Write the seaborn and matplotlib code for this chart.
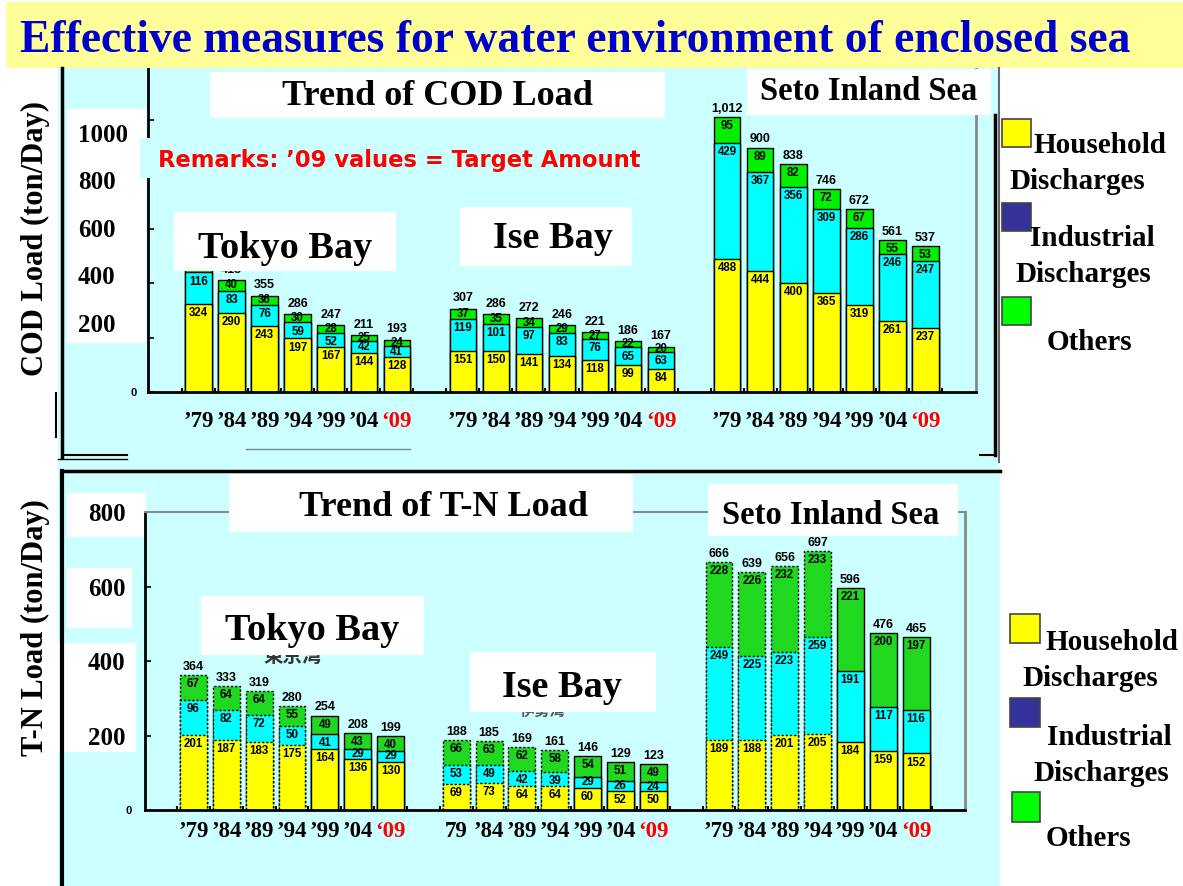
import matplotlib
matplotlib.use("Agg")
import matplotlib.pyplot as plt
import numpy as np
import pandas as pd
import seaborn as sns
from matplotlib.patches import Rectangle
from matplotlib.lines import Line2D

# ---------------- data ----------------
regions = ["Tokyo Bay", "Ise Bay", "Seto Inland Sea"]
year_labels = ["’79", "’84", "’89", "’94", "’99", "’04", "‘09"]
tn_ise_year_labels = ["79", "’84", "’89", "’94", "’99", "’04", "‘09"]
legend_labels = ["Household\nDischarges", "Industrial\nDischarges", "Others"]

cod_tokyo_household = [324, 290, 243, 197, 167, 144, 128]
cod_tokyo_industrial = [116, 83, 76, 59, 52, 42, 41]
cod_tokyo_others = [37, 40, 36, 30, 28, 25, 24]
cod_tokyo_total = [477, 413, 355, 286, 247, 211, 193]

cod_ise_household = [151, 150, 141, 134, 118, 99, 84]
cod_ise_industrial = [119, 101, 97, 83, 76, 65, 63]
cod_ise_others = [37, 35, 34, 29, 27, 22, 20]
cod_ise_total = [307, 286, 272, 246, 221, 186, 167]

cod_seto_household = [488, 444, 400, 365, 319, 261, 237]
cod_seto_industrial = [429, 367, 356, 309, 286, 246, 247]
cod_seto_others = [95, 89, 82, 72, 67, 55, 53]
cod_seto_total = [1012, 900, 838, 746, 672, 561, 537]

tn_tokyo_household = [201, 187, 183, 175, 164, 136, 130]
tn_tokyo_industrial = [96, 82, 72, 50, 41, 29, 29]
tn_tokyo_others = [67, 64, 64, 55, 49, 43, 40]
tn_tokyo_total = [364, 333, 319, 280, 254, 208, 199]

tn_ise_household = [69, 73, 64, 64, 60, 52, 50]
tn_ise_industrial = [53, 49, 42, 39, 29, 26, 24]
tn_ise_others = [66, 63, 62, 58, 54, 51, 49]
tn_ise_total = [188, 185, 169, 161, 146, 129, 123]

tn_seto_household = [189, 188, 201, 205, 184, 159, 152]
tn_seto_industrial = [249, 225, 223, 259, 191, 117, 116]
tn_seto_others = [228, 226, 232, 233, 221, 200, 197]
tn_seto_total = [666, 639, 656, 697, 596, 476, 465]

cod_ticks = [0, 200, 400, 600, 800, 1000, 1200]
cod_big_ticks = [200, 400, 600, 800, 1000]
tn_ticks = [0, 200, 400, 600, 800]
tn_big_ticks = [200, 400, 600, 800]

YELLOW, CYAN = "#FFFF00", "#00FFFF"
GREEN_COD, GREEN_TN = "#00F000", "#20D820"
LEG_COLORS = ["#FFFF00", "#333399", "#00FF00"]
PANEL = "#CCFFFF"

# ---------------- helpers ----------------
W, H = 1183, 886
fig = plt.figure(figsize=(W / 100, H / 100), dpi=100)
fig.patch.set_facecolor("white")

SERIF = "Liberation Serif"
SANS = "Liberation Sans"


def frect(x0, y0, x1, y1, z=-1, **kw):
    r = Rectangle((x0 / W, 1 - y1 / H), (x1 - x0) / W, (y1 - y0) / H,
                  transform=fig.transFigure, zorder=z, **kw)
    fig.add_artist(r)


def fline(x0, y0, x1, y1, z=4, **kw):
    fig.add_artist(Line2D([x0 / W, x1 / W], [1 - y0 / H, 1 - y1 / H],
                          transform=fig.transFigure, zorder=z, **kw))


def ftext(x, y, s, z=3, **kw):
    return fig.text(x / W, 1 - y / H, s, zorder=z, **kw)


def px_axes(x0, y0, x1, y1):
    return fig.add_axes([x0 / W, 1 - y1 / H, (x1 - x0) / W, (y1 - y0) / H])


order = ([f"{regions[0]}|{k}" for k in range(7)] + ["gap1"] +
         [f"{regions[1]}|{k}" for k in range(7)] + ["gap2"] +
         [f"{regions[2]}|{k}" for k in range(7)])
bar_slots = [i for i, s in enumerate(order) if not s.startswith("gap")]
year_of_slot = {i: int(order[i].split("|")[1]) for i in bar_slots}


def build(hh, ind, oth, tot):
    rows = []
    for r, h, i, o, t in zip(regions, hh, ind, oth, tot):
        for k in range(7):
            rows.append(dict(slot=f"{r}|{k}", household=h[k], industrial=i[k],
                             others=o[k], total=t[k]))
    df = pd.DataFrame(rows)
    df["hh_ind"] = df["household"] + df["industrial"]
    return df


def draw_panel(ax, df, green, width, dotted, px_per_unit):
    for col, c in [("total", green), ("hh_ind", CYAN), ("household", YELLOW)]:
        n0 = len(ax.patches)
        sns.barplot(data=df, x="slot", y=col, order=order, color=c, saturation=1,
                    width=width, edgecolor="black", linewidth=1.0, errorbar=None, ax=ax)
        if dotted:
            for p in ax.patches[n0:]:
                idx = int(round(p.get_x() + p.get_width() / 2))
                if year_of_slot.get(idx, 9) < 4:
                    p.set_linestyle((0, (1.6, 1.4)))
    lab_kw = dict(fontsize=8.3, fontweight="bold", family=SANS, ha="center",
                  textcoords="offset points", color="black", zorder=5)

    def seg_label(idx, value, bottom, top):
        if (top - bottom) * px_per_unit < 13:
            ax.annotate(str(value), (idx, (top + bottom) / 2), xytext=(0, 0),
                        va="center", **lab_kw)
        else:
            ax.annotate(str(value), (idx, top), xytext=(0, -2.2), va="top", **lab_kw)

    for _, row in df.iterrows():
        idx = order.index(row["slot"])
        seg_label(idx, row["household"], 0, row["household"])
        seg_label(idx, row["industrial"], row["household"], row["hh_ind"])
        seg_label(idx, row["others"], row["hh_ind"], row["total"])
        tk = dict(lab_kw)
        tk["fontsize"] = 9.0
        small_top = (row["total"] - row["hh_ind"]) * px_per_unit < 13
        ax.annotate(f"{row['total']:,}", (idx, row["total"]),
                    xytext=(0, 3.0 if small_top else 1.5), va="bottom", **tk)
    ax.set_xlabel("")
    ax.set_ylabel("")
    ax.patch.set_visible(False)


def style_axes(ax, xlims, ylims, ticks, xlabels, zero_pad, xpad, top_visible):
    ax.set_xlim(*xlims)
    ax.set_ylim(*ylims)
    ax.set_yticks(ticks)
    ax.set_yticklabels(["0"] + [""] * (len(ticks) - 1), fontsize=8,
                       fontweight="bold", family=SANS)
    ax.tick_params(axis="y", direction="in", length=4, width=1.2, pad=zero_pad)
    ax.set_xticks(bar_slots)
    ax.set_xticklabels(xlabels, fontsize=16.5, fontweight="bold", family=SERIF)
    for lbl, s in zip(ax.get_xticklabels(), xlabels):
        if "09" in s:
            lbl.set_color("#FF0000")
    ax.tick_params(axis="x", which="major", length=0, pad=xpad)
    ax.set_xticks(np.arange(-0.5, len(order), 1.0), minor=True)
    ax.tick_params(axis="x", which="minor", direction="in", length=3, width=1.5)
    ax.spines["left"].set_color("black")
    ax.spines["left"].set_linewidth(2)
    ax.spines["bottom"].set_color("black")
    ax.spines["bottom"].set_linewidth(2)
    ax.spines["right"].set_color("#888888")
    ax.spines["right"].set_linewidth(2)
    ax.spines["top"].set_color("#888888")
    ax.spines["top"].set_linewidth(1.5)
    ax.spines["top"].set_visible(top_visible)


def overlay_labels(rect, ylims, ticks, pad, ha):
    ov = px_axes(*rect)
    ov.set_ylim(*ylims)
    ov.set_yticks(ticks)
    ov.set_yticklabels([str(t) for t in ticks], fontsize=18, fontweight="bold",
                       family=SERIF, ha=ha)
    ov.tick_params(axis="y", length=0, pad=pad)
    ov.set_xticks([])
    for s in ov.spines.values():
        s.set_visible(False)
    ov.patch.set_visible(False)
    return ov


# ---------------- backgrounds ----------------
frect(6, 2, 1183, 68, z=1, facecolor="#FFFF99", edgecolor="none")
frect(58, 68, 999, 466, z=-2, facecolor=PANEL, edgecolor="none")
frect(58, 466, 1000, 886, z=-2, facecolor=PANEL, edgecolor="none")
frect(67, 109, 146, 343, z=-1, facecolor="white", edgecolor="none")
frect(67, 493, 146, 537, z=-1, facecolor="white", edgecolor="none")
frect(67, 568, 132, 628, z=-1, facecolor="white", edgecolor="none")
frect(58, 643, 136, 752, z=-1, facecolor="white", edgecolor="none")

# panel borders
fline(62, 68, 62, 457, lw=2.5, color="black")
fline(62, 455, 127, 455, lw=1.5, color="black")
fline(58, 459, 127, 459, lw=1.0, color="black")
fline(56, 393, 56, 437, lw=1.5, color="black")
fline(246, 449, 410, 449, lw=1.0, color="#778888")
fline(995, 115, 995, 455, lw=2.5, color="black")
fline(999, 68, 999, 462, lw=1.5, color="#666666")
fline(980, 455, 995, 455, lw=1.5, color="black")
fline(62, 471, 1000, 471, lw=2.5, color="black")
fline(62, 471, 62, 886, lw=3, color="black")

# ---------------- COD panel ----------------
cod_df = build([cod_tokyo_household, cod_ise_household, cod_seto_household],
               [cod_tokyo_industrial, cod_ise_industrial, cod_seto_industrial],
               [cod_tokyo_others, cod_ise_others, cod_seto_others],
               [cod_tokyo_total, cod_ise_total, cod_seto_total])
ax1 = px_axes(148, 66, 976, 392)
draw_panel(ax1, cod_df, GREEN_COD, 0.8, dotted=False, px_per_unit=(392 - 66) / 1200)
style_axes(ax1, (-1.53, 23.53), (0, 1200), cod_ticks, year_labels * 3,
           zero_pad=8, xpad=14, top_visible=False)
overlay_labels((148, 66, 976, 392), (-90.5, 1282), cod_big_ticks, pad=50.4, ha="left")

# ---------------- T-N panel ----------------
tn_df = build([tn_tokyo_household, tn_ise_household, tn_seto_household],
              [tn_tokyo_industrial, tn_ise_industrial, tn_seto_industrial],
              [tn_tokyo_others, tn_ise_others, tn_seto_others],
              [tn_tokyo_total, tn_ise_total, tn_seto_total])
ax2 = px_axes(145, 512.4, 965, 810)
draw_panel(ax2, tn_df, GREEN_TN, 0.82, dotted=True, px_per_unit=(810 - 512.4) / 800)
style_axes(ax2, (-1.476, 23.49), (0, 800), tn_ticks,
           year_labels + tn_ise_year_labels + year_labels,
           zero_pad=9.5, xpad=8, top_visible=True)
overlay_labels((145, 512.4, 965, 810), (0, 800), tn_big_ticks, pad=14, ha="right")

# ---------------- titles and boxed labels ----------------
ftext(20, 52, "Effective measures for water environment of enclosed sea", z=3,
      fontsize=32.8, fontweight="bold", family=SERIF, color="#0000CC", va="baseline")

box_kw = dict(fontweight="bold", family=SERIF, color="black", ha="center", va="baseline")
frect(210, 72, 665, 118, z=2, facecolor="white", edgecolor="none")
ftext(437, 105, "Trend of COD Load", fontsize=26, **box_kw)
frect(747, 69, 991, 115, z=2, facecolor="white", edgecolor="none")
ftext(869, 100, "Seto Inland Sea", fontsize=23.5, **box_kw)
frect(174, 212, 396, 271, z=2, facecolor="white", edgecolor="none")
ftext(285, 258, "Tokyo Bay", fontsize=27.5, **box_kw)
frect(460, 207, 632, 266, z=2, facecolor="white", edgecolor="none")
ftext(553, 248, "Ise Bay", fontsize=27.5, **box_kw)
frect(140, 138, 650, 178, z=1, facecolor=PANEL, edgecolor="none")
ftext(158, 167, "Remarks: ’09 values = Target Amount", fontsize=16.3,
      fontweight="bold", family="DejaVu Sans", color="#FF0000", va="baseline", ha="left")

frect(229, 474, 633, 532, z=2, facecolor="white", edgecolor="none")
ftext(443, 516, "Trend of T-N Load", fontsize=26, **box_kw)
frect(708, 484, 958, 536, z=2, facecolor="white", edgecolor="none")
ftext(831, 524, "Seto Inland Sea", fontsize=23.5, **box_kw)
ftext(293, 662, "東京湾", z=1.5, fontsize=14, fontweight="bold",
      family="Noto Sans CJK JP", color="#333333", ha="center", va="baseline")
ftext(543, 716, "伊勢湾", z=1.5, fontsize=11, fontweight="bold",
      family="Noto Sans CJK JP", color="#555555", ha="center", va="baseline")
frect(201, 596, 424, 655, z=2, facecolor="white", edgecolor="none")
ftext(312, 640, "Tokyo Bay", fontsize=27.5, **box_kw)
frect(470, 652, 656, 712, z=2, facecolor="white", edgecolor="none")
ftext(562, 697, "Ise Bay", fontsize=27.5, **box_kw)

ylab_kw = dict(fontsize=22, fontweight="bold", family=SERIF, rotation=90,
               ha="center", va="center", color="black")
ftext(35, 238, "COD Load (ton/Day)", **ylab_kw)
ftext(35, 628, "T-N Load (ton/Day)", **ylab_kw)

# ---------------- legends ----------------
leg_kw = dict(fontsize=21, fontweight="bold", family=SERIF, color="black",
              ha="left", va="baseline")
# COD legend
for (x0, y0, x1, y1), c in zip([(1002, 119, 1031, 147), (1002, 203, 1031, 231),
                                 (1002, 297, 1031, 325)], LEG_COLORS):
    frect(x0, y0, x1, y1, z=2, facecolor=c, edgecolor="#444444", linewidth=1.2)
h1, h2 = legend_labels[0].split("\n")
i1, i2 = legend_labels[1].split("\n")
ftext(1033, 153, h1, **leg_kw)
ftext(1009, 189, h2, **leg_kw)
ftext(1030, 246, i1, **leg_kw)
ftext(1015, 282, i2, **leg_kw)
ftext(1047, 350, legend_labels[2], **leg_kw)
# T-N legend
for (x0, y0, x1, y1), c in zip([(1010, 614, 1040, 643), (1010, 698, 1040, 727),
                                 (1012, 792, 1040, 822)], LEG_COLORS):
    frect(x0, y0, x1, y1, z=2, facecolor=c, edgecolor="#444444", linewidth=1.2)
ftext(1045, 650, h1, **leg_kw)
ftext(1022, 686, h2, **leg_kw)
ftext(1047, 745, i1, **leg_kw)
ftext(1033, 781, i2, **leg_kw)
ftext(1046, 846, legend_labels[2], **leg_kw)

fig.savefig("out.png", dpi=100)
